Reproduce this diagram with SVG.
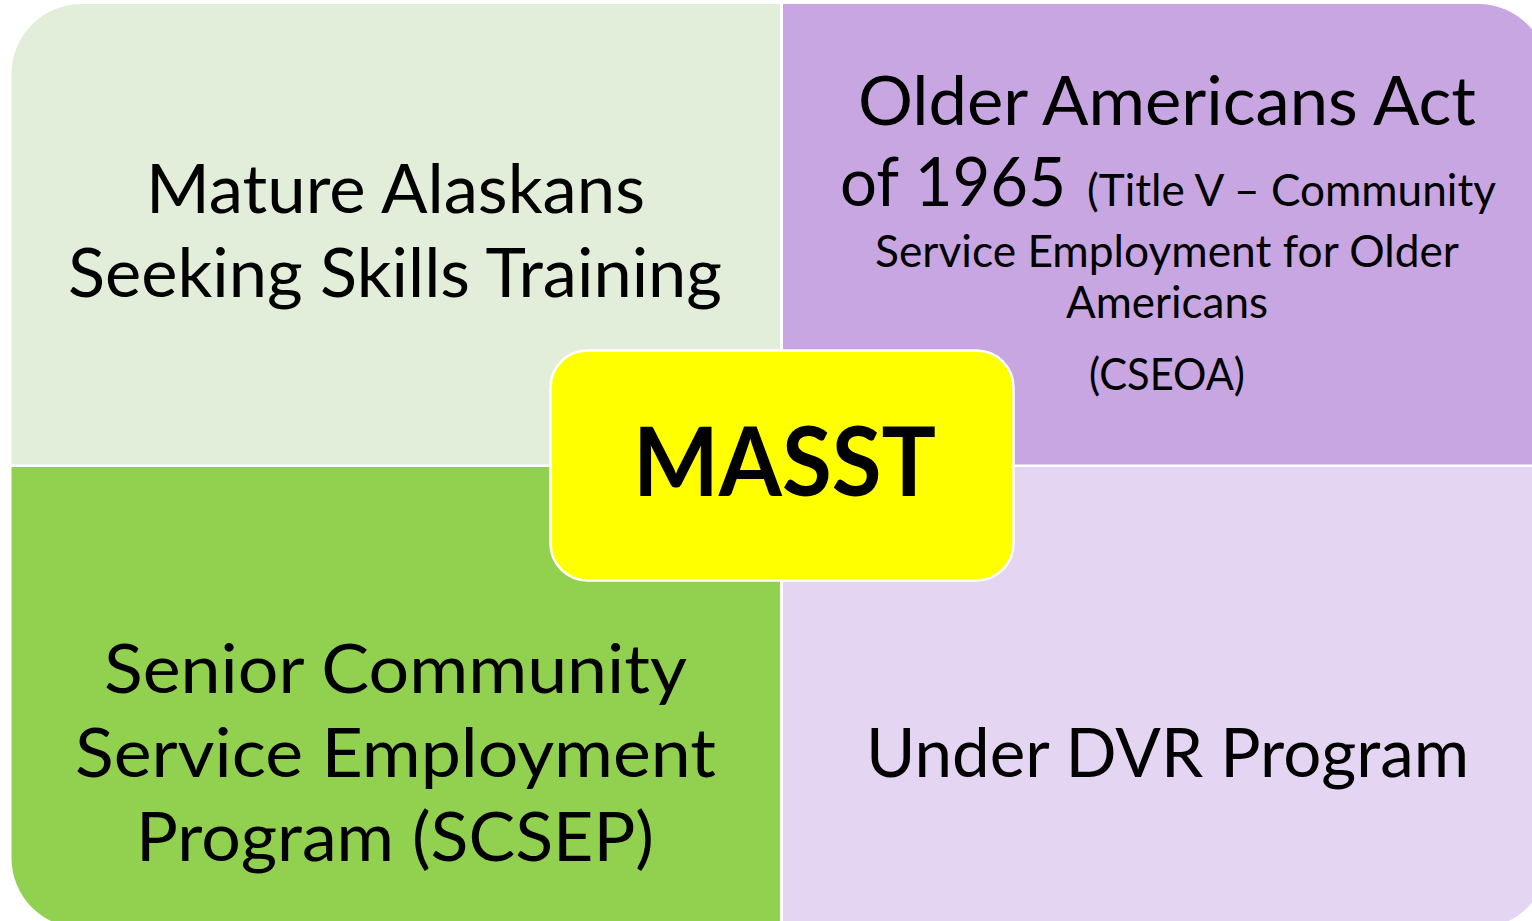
<svg xmlns="http://www.w3.org/2000/svg" width="1532" height="921" viewBox="0 0 1532 921">
  <style>
    .lbl { font-family: Lato, "Open Sans", "Liberation Sans", sans-serif; fill: #000; }
    .big { font-size: 67px; }
    .small { font-size: 44px; }
    .mid { text-anchor: middle; }
    .hub { font-family: Lato, "Open Sans", "Liberation Sans", sans-serif; font-weight: 700; font-size: 95px; fill: #000; text-anchor: middle; }
  </style>
  <rect width="1532" height="921" fill="#ffffff"/>

  <!-- top-left quadrant -->
  <g id="mature-alaskans">
    <path d="M11.5,74 A70,70 0 0 1 81.5,4 L780,4 L780,464.5 L11.5,464.5 Z" fill="#E2EEDA"/>
    <text class="lbl big mid" x="395.5" y="213" textLength="499" lengthAdjust="spacingAndGlyphs">Mature Alaskans</text>
    <text class="lbl big mid" x="395" y="297" textLength="654" lengthAdjust="spacingAndGlyphs">Seeking Skills Training</text>
  </g>

  <!-- top-right quadrant -->
  <g id="older-americans-act">
    <path d="M783,4 L1478,4 A70,70 0 0 1 1548,74 L1548,464.5 L783,464.5 Z" fill="#C8A6E2"/>
    <text class="lbl big mid" x="1167" y="125" textLength="618" lengthAdjust="spacingAndGlyphs">Older Americans Act</text>
    <text class="lbl big" x="840" y="206" textLength="226" lengthAdjust="spacingAndGlyphs">of 1965</text>
    <text class="lbl small" x="1087" y="206" textLength="409" lengthAdjust="spacingAndGlyphs">(Title V – Community</text>
    <text class="lbl small mid" x="1167" y="267" textLength="584" lengthAdjust="spacingAndGlyphs">Service Employment for Older</text>
    <text class="lbl small mid" x="1167" y="318" textLength="202" lengthAdjust="spacingAndGlyphs">Americans</text>
    <text class="lbl small mid" x="1167" y="390" textLength="156" lengthAdjust="spacingAndGlyphs">(CSEOA)</text>
  </g>

  <!-- bottom-left quadrant -->
  <g id="scsep">
    <path d="M11.5,467 L780,467 L780,928 L81.5,928 A70,70 0 0 1 11.5,858 Z" fill="#92D050"/>
    <text class="lbl big mid" x="395.5" y="693" textLength="583" lengthAdjust="spacingAndGlyphs">Senior Community</text>
    <text class="lbl big mid" x="395.5" y="777" textLength="641" lengthAdjust="spacingAndGlyphs">Service Employment</text>
    <text class="lbl big mid" x="395" y="861" textLength="518" lengthAdjust="spacingAndGlyphs">Program (SCSEP)</text>
  </g>

  <!-- bottom-right quadrant -->
  <g id="dvr-program">
    <path d="M783,467 L1548,467 L1548,858 A70,70 0 0 1 1478,928 L783,928 Z" fill="#E4D5F2"/>
    <text class="lbl big mid" x="1167.5" y="777" textLength="603" lengthAdjust="spacingAndGlyphs">Under DVR Program</text>
  </g>

  <!-- central hub -->
  <g id="masst">
    <rect x="550.5" y="350.5" width="463" height="230" rx="37" ry="37" fill="#FFFF00" stroke="#ffffff" stroke-width="2.5"/>
    <text class="hub" x="784.5" y="496" textLength="303" lengthAdjust="spacingAndGlyphs">MASST</text>
  </g>

  <g id="connectors"/>
</svg>
